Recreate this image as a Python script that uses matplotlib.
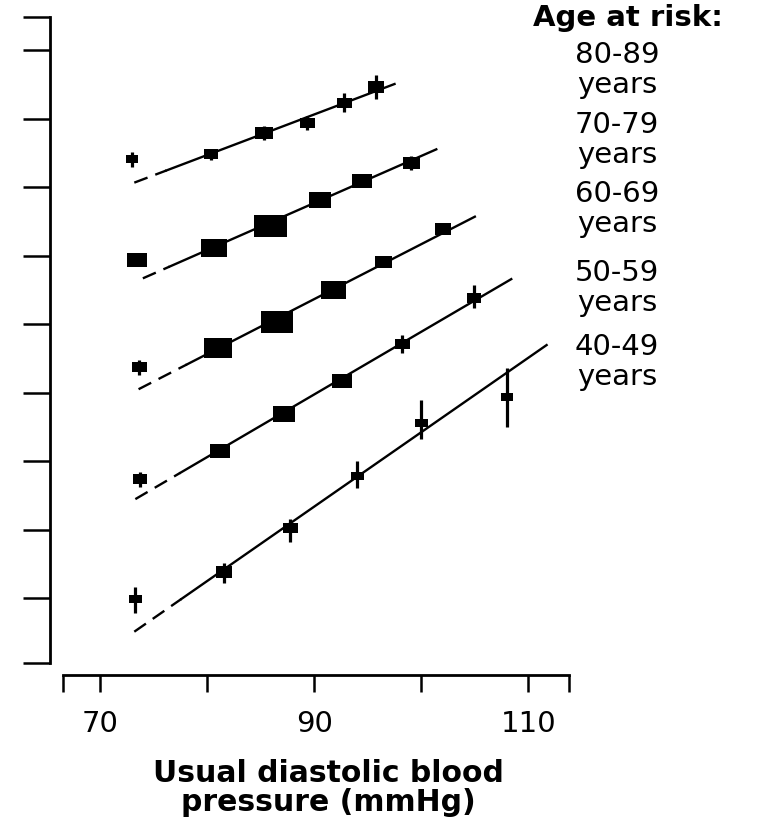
import numpy as np
import matplotlib
matplotlib.use("Agg")
import matplotlib.pyplot as plt
from matplotlib.path import Path
from matplotlib.ticker import NullLocator

# age bands, top to bottom
ages = ["80-89", "70-79", "60-69", "50-59", "40-49"]

# mean usual diastolic BP in each category (mmHg), one row per age band
dbp = [
    [73.0, 80.4, 85.3, 89.3, 92.8, 95.8],
    [73.5, 80.6, 85.9, 90.5, 94.5, 99.0],
    [73.6, 81.0, 86.5, 91.8, 96.4, 102.0],
    [73.7, 81.2, 87.2, 92.6, 98.2, 104.9],
    [73.3, 81.6, 87.7, 94.0, 100.0, 108.0],
]

# floating absolute risk and 95% CI
risk = [
    [84.7, 89.1, 110.2, 122.7, 150.2, 175.5],
    [30.6, 34.4, 43.3, 56.1, 68.2, 81.9],
    [10.33, 12.51, 16.38, 22.56, 30.05, 41.85],
    [3.32, 4.44, 6.42, 9.01, 13.03, 20.75],
    [0.987, 1.297, 2.025, 3.437, 5.856, 7.621],
]
ci_lo = [
    [78.4, 84.3, 102.8, 114.5, 136.7, 156.0],
    [29.0, 32.6, 41.0, 53.1, 64.6, 76.4],
    [9.57, 11.9, 15.6, 21.5, 28.6, 39.6],
    [3.08, 4.23, 6.12, 8.52, 11.94, 18.82],
    [0.86, 1.16, 1.76, 3.05, 5.00, 5.66],
]
ci_hi = [
    [91.2, 94.2, 118.1, 131.5, 165.6, 198.8],
    [32.3, 36.3, 45.7, 59.2, 72.0, 87.7],
    [11.15, 13.1, 17.2, 23.7, 31.5, 44.2],
    [3.58, 4.66, 6.74, 9.52, 14.31, 23.74],
    [1.12, 1.42, 2.22, 4.01, 7.42, 10.25],
]

# box width (px), proportional to the information in each category
box = [
    [12, 14, 18, 15, 15, 16],
    [20, 26, 33, 23, 20, 17],
    [15, 28, 32, 25, 17, 16],
    [14, 20, 22, 20, 15, 14],
    [13, 16, 15, 13, 13, 12],
]

# fitted log-linear lines: dashed from fit_x0 to fit_xs, solid to fit_x1
fit_x0 = [73.2, 74.0, 73.6, 73.3, 73.2]
fit_xs = [76.2, 76.5, 78.1, 77.5, 77.6]
fit_x1 = [97.5, 101.4, 105.0, 108.4, 111.7]
fit_r0 = [66.9, 25.4, 8.27, 2.72, 0.711]
fit_r1 = [181.5, 93.7, 47.4, 25.2, 12.93]

x_ticks = [70, 90, 110]
x_minor = [80, 100]
x_range = (66.57, 113.82)
y_ticks = [2.0 ** k for k in range(9)]
y_range = (0.518, 357.6)

plt.rcParams["font.family"] = ["DejaVu Sans"]

W, H = 757, 822
fig = plt.figure(figsize=(W / 100, H / 100), dpi=100)
ax = fig.add_axes([50 / W, 1 - 663 / H, (569.3 - 50) / W, (663 - 17) / H])

# filled rectangle marker, a bit wider than tall
box_marker = Path([(-1, -0.69), (1, -0.69), (1, 0.69), (-1, 0.69), (-1, -0.69)],
                  [Path.MOVETO, Path.LINETO, Path.LINETO, Path.LINETO, Path.CLOSEPOLY])

for i in range(len(ages)):
    x0, xs, x1 = fit_x0[i], fit_xs[i], fit_x1[i]
    l0, l1 = np.log2(fit_r0[i]), np.log2(fit_r1[i])
    ls = l0 + (l1 - l0) * (xs - x0) / (x1 - x0)
    ax.plot([x0, xs], [2 ** l0, 2 ** ls], color="black", lw=1.7,
            ls=(0, (6, 3.5)), solid_capstyle="butt", zorder=2)
    ax.plot([xs, x1], [2 ** ls, 2 ** l1], color="black", lw=1.7, zorder=2)
    ax.vlines(dbp[i], ci_lo[i], ci_hi[i], color="black", lw=2.3, zorder=3)
    for xi, ri, w in zip(dbp[i], risk[i], box[i]):
        ax.plot(xi, ri, marker=box_marker, ms=w * 0.72, color="black",
                mew=0, ls="none", zorder=4)

ax.set_yscale("log", base=2)
ax.set_xlim(65.33, 113.82)
ax.set_ylim(*y_range)

ax.set_yticks([y_range[0]] + y_ticks + [y_range[1]])
ax.set_yticklabels([])
ax.yaxis.set_minor_locator(NullLocator())
ax.tick_params(axis="y", which="both", direction="out", length=19.5, width=1.8)

ax.set_xticks(x_ticks)
ax.set_xticklabels([str(t) for t in x_ticks])
ax.set_xticks([x_range[0]] + x_minor + [x_range[1]], minor=True)
ax.tick_params(axis="x", which="both", direction="out", length=12.5, width=1.8,
               pad=13, labelsize=21)

for s in ("top", "right"):
    ax.spines[s].set_visible(False)
ax.spines["left"].set_linewidth(2.0)
ax.spines["bottom"].set_linewidth(2.0)
ax.spines["bottom"].set_position(("outward", 8.6))
ax.spines["bottom"].set_bounds(*x_range)
ax.patch.set_visible(False)

# age band labels down the right-hand side
fig.text(628 / W, 1 - 17.5 / H, "Age at risk:", ha="center", va="center",
         fontsize=21, fontweight="bold")
label_y = [70, 140, 209, 288, 362]
for age, py in zip(ages, label_y):
    fig.text(617 / W, 1 - py / H, f"{age}\nyears", ha="center", va="center",
             fontsize=21, linespacing=1.1)

fig.text(328 / W, 1 - 788 / H, "Usual diastolic blood\npressure (mmHg)",
         ha="center", va="center", fontsize=21.5, fontweight="bold",
         linespacing=1.0)

fig.savefig("out.png", dpi=100)
